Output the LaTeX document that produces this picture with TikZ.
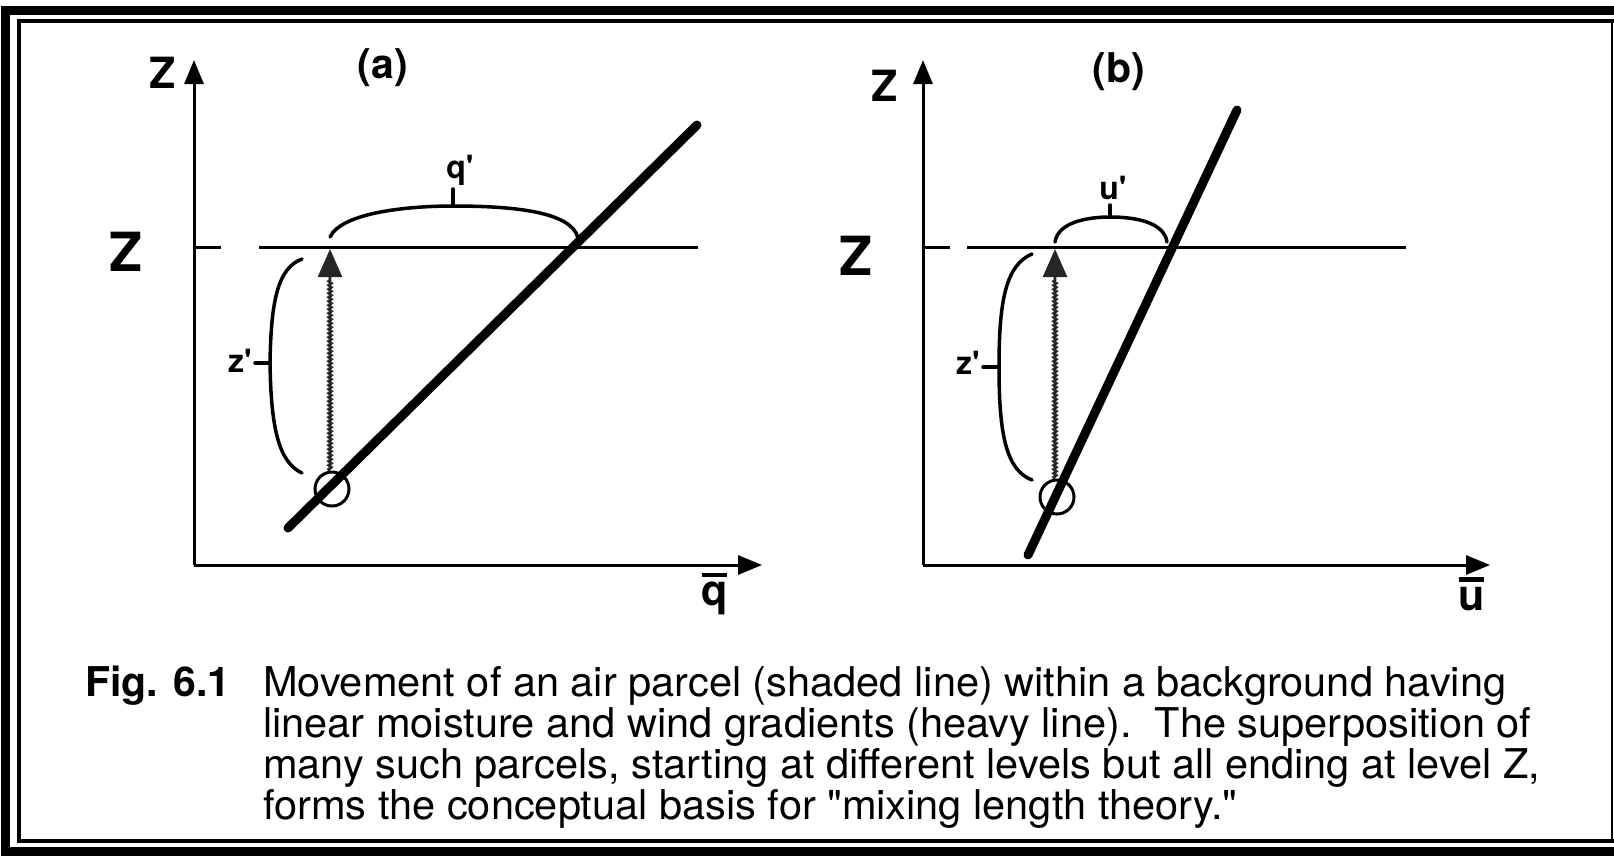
\documentclass[tikz,border=0pt]{standalone}
\usepackage{fontspec}
\setmainfont{TeX Gyre Heros}
\newfontfamily\capfont[FakeStretch=1.013]{TeX Gyre Heros}
\usetikzlibrary{arrows.meta,decorations.pathmorphing}
\newcommand{\barred}[1]{\makebox[0pt][l]{\raisebox{0.66em}{\rule{0.58em}{0.1em}}}#1}

\begin{document}
\begin{tikzpicture}[x=1pt,y=-1pt,
  axis/.style={line width=3pt,-{Triangle[length=24pt,width=19pt]}},
  level/.style={line width=3pt},
  heavy/.style={line width=9pt,line cap=round},
  parcel/.style={line width=2.6pt,black!85,decorate,decoration={snake,amplitude=1.4pt,segment length=4pt,post length=30pt},-{Triangle[length=28pt,width=24pt]}},
  brace/.style={line width=3.5pt,line cap=round},
  ring/.style={draw,circle,line width=3pt,minimum size=34pt,inner sep=0pt},
  biglbl/.style={font=\fontsize{54}{54}\selectfont\bfseries},
  axlbl/.style={font=\fontsize{43}{43}\selectfont\bfseries},
  panel/.style={font=\fontsize{41}{41}\selectfont\bfseries},
  small/.style={font=\fontsize{32}{32}\selectfont\bfseries,inner sep=0pt},
  captxt/.style={font=\fontsize{41}{41}\capfont,anchor=base west,inner sep=0pt}]
  \useasboundingbox (0,0) rectangle (1614,855);
  % double frame
  \draw[line width=9pt] (1614,10) -- (5,10) -- (5,851) -- (1614,851);
  \draw[line width=4pt] (1614,21) -- (19,21) -- (19,841) -- (1614,841);
  \draw[line width=2pt] (1612,21) -- (1612,841);

  % panel (a)
  \coordinate (aO) at (194,565);
  \coordinate (aZend) at (194,60);
  \coordinate (aQend) at (762,565);
  \coordinate (aLo) at (288,528);
  \coordinate (aHi) at (697,125);
  \coordinate (aTop) at (330,249);
  \draw[axis] (aO) -- (aZend);
  \draw[axis] (aO) -- (aQend);
  \draw[level] (194,247) -- (221,247);
  \draw[level] (259,247) -- (698,247);
  \draw[heavy] (aLo) -- (aHi);
  \node[ring] (aRing) at (332,489) {};
  \draw[parcel] (aRing.north -| aTop) -- (aTop);
  \draw[brace] (330,237) .. controls (342,212) and (410,206) .. (453,206)
    .. controls (515,206) and (572,212) .. (578,238);
  \draw[brace] (453,206) -- (453,189);
  \draw[brace] (302,259) .. controls (278,268) and (271,300) .. (270,363)
    .. controls (271,426) and (278,462) .. (302,473);
  \draw[brace] (270,363) -- (255,363);
  \node[axlbl] (aZ) at (163,73) {Z};
  \node[biglbl] (aLevel) at (126,252) {Z};
  \node[panel] (aTitle) at (383,68) {(a)};
  \node[small] (aQp) at (460,170) {q\textquotesingle};
  \node[small] (aZp) at (240,361) {z\textquotesingle};
  \node[axlbl] (aQbar) at (715,594) {\barred{q}};

  % panel (b)
  \coordinate (bO) at (923,565);
  \coordinate (bZend) at (923,60);
  \coordinate (bUend) at (1490,565);
  \coordinate (bLo) at (1028,555);
  \coordinate (bHi) at (1237,110);
  \coordinate (bTop) at (1055,249);
  \draw[axis] (bO) -- (bZend);
  \draw[axis] (bO) -- (bUend);
  \draw[level] (923,247) -- (950,247);
  \draw[level] (967,247) -- (1406,247);
  \draw[heavy] (bLo) -- (bHi);
  \node[ring] (bRing) at (1057,497) {};
  \draw[parcel] (bRing.north -| bTop) -- (bTop);
  \draw[brace] (1055,242) .. controls (1058,222) and (1088,217) .. (1110,217)
    .. controls (1135,217) and (1164,222) .. (1167,242);
  \draw[brace] (1110,217) -- (1110,205);
  \draw[brace] (1032,254) .. controls (1006,265) and (999,300) .. (999,367)
    .. controls (999,434) and (1006,470) .. (1032,480);
  \draw[brace] (999,367) -- (983,367);
  \node[axlbl] (bZ) at (885,86) {Z};
  \node[biglbl] (bLevel) at (856,256) {Z};
  \node[panel] (bTitle) at (1119,72) {(b)};
  \node[small] (bUp) at (1113,188) {u\textquotesingle};
  \node[small] (bZp) at (968,363) {z\textquotesingle};
  \node[axlbl] (bUbar) at (1472,594) {\barred{u}};

  % caption
  \node[captxt,font=\fontsize{41}{41}\selectfont\bfseries] (fig) at (85,696) {Fig. 6.1};
  \node[captxt] (cap1) at (263,696) {Movement of an air parcel (shaded line) within a background having};
  \node[captxt] (cap2) at (263,737) {linear moisture and wind gradients (heavy line).\ \ The superposition of};
  \node[captxt] (cap3) at (263,778) {many such parcels, starting at different levels but all ending at level Z,};
  \node[captxt] (cap4) at (263,819) {forms the conceptual basis for \textquotedbl mixing length theory.\textquotedbl};
\end{tikzpicture}
\end{document}
